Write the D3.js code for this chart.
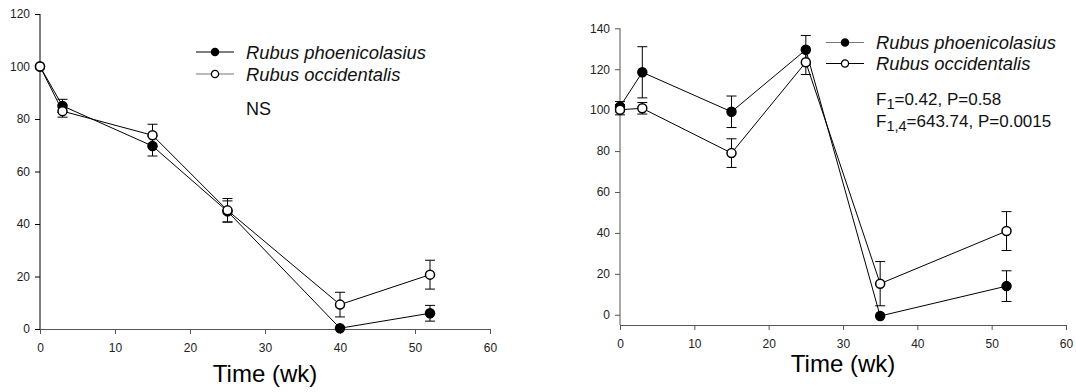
<!DOCTYPE html>
<html>
<head>
<meta charset="utf-8">
<script src="https://cdn.jsdelivr.net/npm/d3@7"></script>
<style>
  body { margin: 0; background: #fff; }
  svg { display: block; font-family: "Liberation Sans", Arial, sans-serif; }
</style>
</head>
<body>
<svg id="chart" width="1076" height="392"></svg>
<script>
// data (time in weeks, % of initial)
var seriesNames = ["Rubus phoenicolasius", "Rubus occidentalis"];
var xTicks = [0, 10, 20, 30, 40, 50, 60];

var weeksLeft = [0, 3, 15, 25, 40, 52];
var phoenLeft = [100, 85, 69.7, 44.8, 0.3, 6];
var phoenLeftErr = [0, 2.5, 3.8, 4, 0, 3];
var occLeft = [100, 83, 73.8, 45.2, 9.3, 20.7];
var occLeftErr = [0, 2.3, 4.2, 4.5, 4.7, 5.5];
var yTicksLeft = [0, 20, 40, 60, 80, 100, 120];

var weeksRight = [0, 3, 15, 25, 35, 52];
var phoenRight = [101.7, 118.5, 99.2, 129.5, -0.6, 14];
var phoenRightErr = [2.5, 12.5, 7.7, 7, 0, 7.5];
var occRight = [100.2, 100.9, 79, 123.4, 15.2, 40.9];
var occRightErr = [2.5, 2.8, 7, 6, 10.8, 9.5];
var yTicksRight = [0, 20, 40, 60, 80, 100, 120, 140];

var statsRight = [["F", "1", "=0.42, P=0.58"], ["F", "1,4", "=643.74, P=0.0015"]];

var svg = d3.select("#chart");

function rows(t, v, e) {
    return t.map(function(d, i) { return {t: d, v: v[i], e: e[i]}; });
}

function drawPanel(p) {
    var x = d3.scaleLinear().domain([0, 60]).range(p.xRange);
    var y = d3.scaleLinear().domain(p.yDomain).range(p.yRange);
    var g = svg.append("g");

    // axes
    var yAxis = g.append("g")
        .attr("transform", "translate(" + p.xRange[0] + ",0)")
        .call(d3.axisLeft(y).tickValues(p.yTicks).tickSize(5).tickPadding(5).tickSizeOuter(0));
    yAxis.select(".domain").attr("stroke", p.yAxisColor)
        .attr("d", "M0," + y(p.yDomain[0]) + "V" + y(p.yDomain[1]));
    yAxis.selectAll(".tick line").attr("stroke", p.yAxisColor);

    var xAxis = g.append("g")
        .attr("transform", "translate(0," + y(p.yDomain[0]) + ")")
        .call(d3.axisBottom(x).tickValues(xTicks).tickSize(5).tickPadding(9).tickSizeOuter(0));
    xAxis.select(".domain").attr("stroke", p.xAxisColor);
    xAxis.selectAll(".tick line").attr("stroke", p.xAxisColor);

    g.selectAll(".tick text").attr("font-size", 12).attr("fill", "#222")
        .attr("font-family", "Liberation Sans, Arial, sans-serif");

    // x title
    g.append("text")
        .attr("x", (p.xRange[0] + p.xRange[1]) / 2)
        .attr("y", p.titleY)
        .attr("text-anchor", "middle")
        .attr("font-size", 24)
        .text("Time (wk)");

    var line = d3.line()
        .x(function(d) { return x(d.t); })
        .y(function(d) { return y(d.v); });

    p.series.forEach(function(s) {
        var data = rows(s.t, s.v, s.e);
        g.append("path")
            .datum(data)
            .attr("fill", "none")
            .attr("stroke", "#000")
            .attr("stroke-width", 1)
            .attr("d", line);

        var eb = g.append("g").selectAll("g")
            .data(data.filter(function(d) { return d.e > 0; }))
            .enter().append("g");
        eb.append("line")
            .attr("x1", function(d) { return x(d.t); })
            .attr("x2", function(d) { return x(d.t); })
            .attr("y1", function(d) { return y(d.v - d.e); })
            .attr("y2", function(d) { return y(d.v + d.e); })
            .attr("stroke", "#000");
        [-1, 1].forEach(function(sign) {
            eb.append("line")
                .attr("x1", function(d) { return x(d.t) - 5; })
                .attr("x2", function(d) { return x(d.t) + 5; })
                .attr("y1", function(d) { return y(d.v + sign * d.e); })
                .attr("y2", function(d) { return y(d.v + sign * d.e); })
                .attr("stroke", "#000");
        });

        g.append("g").selectAll("circle")
            .data(data)
            .enter().append("circle")
            .attr("cx", function(d) { return x(d.t); })
            .attr("cy", function(d) { return y(d.v); })
            .attr("r", 4.5)
            .attr("fill", s.filled ? "#000" : "#fff")
            .attr("stroke", "#000")
            .attr("stroke-width", 1.5);
    });

    // legend
    var legend = g.selectAll(".legend")
        .data(p.series)
        .enter().append("g")
        .attr("class", "legend")
        .attr("transform", function(d, i) { return "translate(" + p.legendX + "," + (p.legendY + i * p.legendStep) + ")"; });
    legend.append("line")
        .attr("x1", 0).attr("x2", 38)
        .attr("stroke", function(d) { return d.legendColor; })
        .attr("stroke-width", 1.2);
    legend.append("circle")
        .attr("cx", 19).attr("r", 3.6)
        .attr("fill", function(d) { return d.filled ? "#000" : "#fff"; })
        .attr("stroke", "#000")
        .attr("stroke-width", 1.3);
    legend.append("text")
        .attr("x", 50)
        .attr("dy", "0.36em")
        .attr("font-size", 18.4)
        .attr("font-style", "italic")
        .attr("fill", "#111")
        .text(function(d) { return d.name; });

    return g;
}

var left = drawPanel({
    xRange: [40, 490], yDomain: [0, 120], yRange: [329, 14], yTicks: yTicksLeft,
    yAxisColor: "#000", xAxisColor: "#555", titleY: 382,
    legendX: 196, legendY: 52, legendStep: 22,
    series: [
        {name: seriesNames[0], t: weeksLeft, v: phoenLeft, e: phoenLeftErr, filled: true, legendColor: "#000"},
        {name: seriesNames[1], t: weeksLeft, v: occLeft, e: occLeftErr, filled: false, legendColor: "#777"}
    ]
});
left.append("text")
    .attr("x", 246).attr("y", 115)
    .attr("font-size", 18)
    .attr("fill", "#111")
    .text("NS");

var right = drawPanel({
    xRange: [620, 1066], yDomain: [-5, 140], yRange: [325, 28.3], yTicks: yTicksRight,
    yAxisColor: "#555", xAxisColor: "#555", titleY: 372,
    legendX: 826, legendY: 42.5, legendStep: 21,
    series: [
        {name: seriesNames[0], t: weeksRight, v: phoenRight, e: phoenRightErr, filled: true, legendColor: "#777"},
        {name: seriesNames[1], t: weeksRight, v: occRight, e: occRightErr, filled: false, legendColor: "#000"}
    ]
});

statsRight.forEach(function(s, i) {
    var t = right.append("text")
        .attr("x", 876).attr("y", 105 + i * 22)
        .attr("font-size", 17)
        .attr("fill", "#111");
    t.append("tspan").text(s[0]);
    t.append("tspan").attr("dy", 4).attr("font-size", 14.5).text(s[1]);
    t.append("tspan").attr("dy", -4).text(s[2]);
});
</script>
</body>
</html>
